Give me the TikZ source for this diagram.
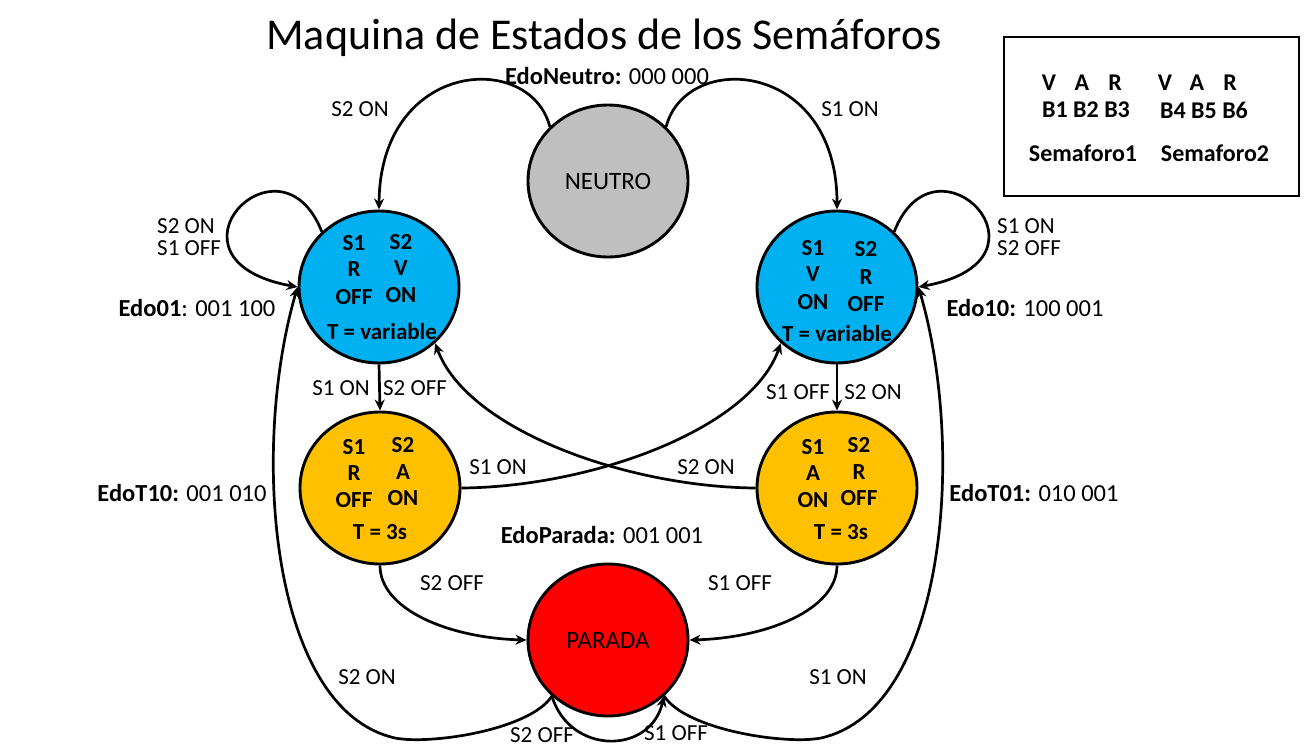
\documentclass[tikz,border=0pt]{standalone}
\usepackage{fontspec}
\setmainfont{Carlito}
\usetikzlibrary{shapes.geometric,arrows.meta}
\definecolor{cgray}{HTML}{BFBFBF}
\definecolor{cblue}{HTML}{00B0F0}
\definecolor{corange}{HTML}{FFC000}
\definecolor{cred}{HTML}{FF0000}
\begin{document}
\begin{tikzpicture}[x=1pt,y=-1pt,
  statenode/.style={ellipse, draw, line width=2.9pt, minimum width=160pt, minimum height=152pt, inner sep=0pt, font=\fontsize{25}{28}\selectfont},
  conn/.style={line width=2.7pt, -{Stealth[length=11pt,width=10pt]}},
  lbl/.style={font=\fontsize{23}{25}\selectfont, inner sep=0pt},
  st/.style={font=\bfseries\fontsize{23}{25}\selectfont, inner sep=0pt},
  edo/.style={font=\fontsize{24.5}{27}\selectfont, inner sep=0pt},
  boxt/.style={font=\bfseries\fontsize{24}{27}\selectfont, inner sep=0pt}]
\useasboundingbox (0,0) rectangle (1311,746);

% title
\node[inner sep=0pt, font=\fontsize{44}{48}\selectfont] (title) at (604,38) {Maquina de Estados de los Semáforos};

% legend box
\draw[line width=2.6pt] (1004,37) rectangle (1299,196);
\foreach \l/\x [count=\i] in {V/1049,A/1082,R/1115,V/1165,A/1197,R/1230}
  \node[boxt] (top\i) at (\x,83) {\l};
\node[boxt] (b1) at (1086,110) {B1 B2 B3};
\node[boxt] (b2) at (1204,110) {B4 B5 B6};
\node[boxt] (s1) at (1083,153) {Semaforo1};
\node[boxt] (s2) at (1215,153) {Semaforo2};

% states
\node[statenode, fill=cgray] (neutro) at (608,181) {NEUTRO};
\node[statenode, fill=cblue] (edo01) at (379,287) {};
\node[statenode, fill=cblue] (edo10) at (837,287) {};
\node[statenode, fill=corange] (edot10) at (380,488) {};
\node[statenode, fill=corange] (edot01) at (837,488) {};
\node[statenode, fill=cred] (parada) at (608,640) {PARADA};

% state contents
\node[st] (a1) at (354,243) {S1};
\node[st] (a2) at (401,242) {S2};
\node[st] (a3) at (354,269) {R};
\node[st] (a4) at (401,268) {V};
\node[st] (a5) at (354,297) {OFF};
\node[st] (a6) at (401,295) {ON};
\node[st] (a7) at (382,332) {T = variable};

\node[st] (c1) at (813,248) {S1};
\node[st] (c2) at (866,249) {S2};
\node[st] (c3) at (813,274) {V};
\node[st] (c4) at (866,277) {R};
\node[st] (c5) at (813,302) {ON};
\node[st] (c6) at (866,304) {OFF};
\node[st] (c7) at (837,334) {T = variable};

\node[st] (d1) at (354,447) {S1};
\node[st] (d2) at (403,445) {S2};
\node[st] (d3) at (354,473) {R};
\node[st] (d4) at (403,472) {A};
\node[st] (d5) at (354,500) {OFF};
\node[st] (d6) at (403,498) {ON};
\node[st] (d7) at (380,532) {T = 3s};

\node[st] (e1) at (813,447) {S1};
\node[st] (e2) at (859,445) {S2};
\node[st] (e3) at (813,473) {A};
\node[st] (e4) at (859,472) {R};
\node[st] (e5) at (813,500) {ON};
\node[st] (e6) at (859,498) {OFF};
\node[st] (e7) at (841,532) {T = 3s};

% state names
\node[edo] (nNeutro) at (607,76) {\textbf{EdoNeutro:} 000 000};
\node[edo] (n01) at (197,308) {\textbf{Edo01}: 001 100};
\node[edo] (n10) at (1025,308) {\textbf{Edo10:} 100 001};
\node[edo] (nT10) at (182,493) {\textbf{EdoT10:} 001 010};
\node[edo] (nT01) at (1034,493) {\textbf{EdoT01:} 010 001};
\node[edo] (nPar) at (602,535) {\textbf{EdoParada:} 001 001};

% connectors
\draw[conn] (neutro.137) .. controls (530,50) and (380,60) .. (edo01.north);
\draw[conn] (neutro.43) .. controls (686,50) and (837,60) .. (edo10.north);
\draw[conn] (edo01.136) .. controls (280,125) and (150,260) .. (edo01.180);
\draw[conn] (edo10.44) .. controls (936,125) and (1066,260) .. (edo10.0);
\draw[conn] (edo01.south) -- (edot10.north);
\draw[conn] (edo10.south) -- (edot01.north);
\draw[conn] (edot10.east) .. controls (590,487) and (750,430) .. (edo10.225);
\draw[conn] (edot01.west) .. controls (627,487) and (467,430) .. (edo01.315);
\draw[conn] (edot10.south) .. controls (380,610) and (450,638) .. (parada.west);
\draw[conn] (edot01.south) .. controls (837,610) and (766,638) .. (parada.east);
\draw[conn] (parada.225) .. controls (530,730) and (430,745) .. (395,738) .. controls (270,710) and (250,450) .. (edo01.180);
\draw[conn] (parada.315) .. controls (686,730) and (786,745) .. (821,738) .. controls (946,710) and (966,450) .. (edo10.0);
\draw[conn] (parada.225) .. controls (570,755) and (650,755) .. (parada.315);

% connector labels
\node[lbl] (l1) at (360,109) {S2 ON};
\node[lbl] (l2) at (850,109) {S1 ON};
\node[lbl, anchor=west] (l3) at (157,226) {S2 ON};
\node[lbl, anchor=west] (l4) at (157,248) {S1 OFF};
\node[lbl, anchor=west] (l5) at (997,226) {S1 ON};
\node[lbl, anchor=west] (l6) at (997,248) {S2 OFF};
\node[lbl] (l7) at (341,388) {S1 ON};
\node[lbl] (l8) at (415,388) {S2 OFF};
\node[lbl] (l9) at (798,392) {S1 OFF};
\node[lbl] (l10) at (873,392) {S2 ON};
\node[lbl] (l11) at (498,467) {S1 ON};
\node[lbl] (l12) at (706,467) {S2 ON};
\node[lbl] (l13) at (452,583) {S2 OFF};
\node[lbl] (l14) at (740,583) {S1 OFF};
\node[lbl] (l15) at (367,677) {S2 ON};
\node[lbl] (l16) at (838,677) {S1 ON};
\node[lbl] (l17) at (542,735) {S2 OFF};
\node[lbl] (l18) at (676,733) {S1 OFF};
\end{tikzpicture}
\end{document}
